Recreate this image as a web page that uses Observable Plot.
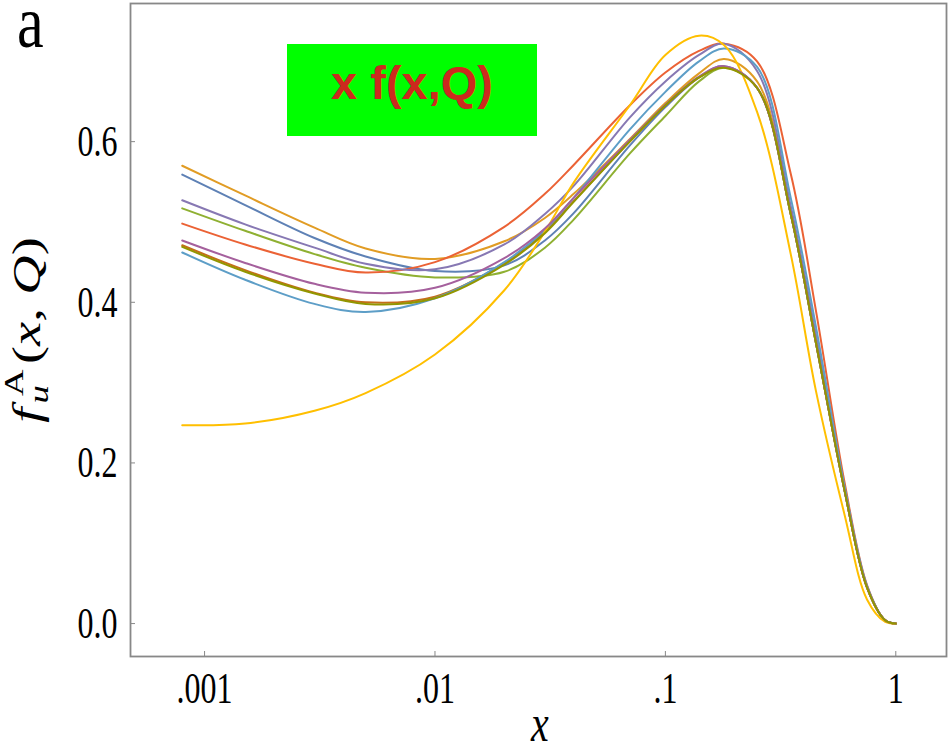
<!DOCTYPE html>
<html>
<head>
<meta charset="utf-8">
<script src="https://cdn.jsdelivr.net/npm/d3@7"></script>
<script src="https://cdn.jsdelivr.net/npm/@observablehq/plot@0.6"></script>
<style>
  body { margin: 0; background: #fff; }
  #chart { width: 949px; height: 753px; }
</style>
</head>
<body>
<div id="chart"></div>
<script>
// Momentum fraction grid shared by every curve
const xs = [0.0008, 0.0015, 0.003, 0.005, 0.01, 0.02, 0.03, 0.04, 0.07, 0.1, 0.14, 0.18, 0.25, 0.35, 0.45, 0.6, 0.75, 0.9, 1];

// x f_u^A(x, Q) for each nuclear PDF set
const setBlue    = [0.559, 0.521, 0.480, 0.457, 0.439, 0.446, 0.477, 0.511, 0.595, 0.643, 0.680, 0.694, 0.667, 0.510, 0.350, 0.165, 0.045, 0.004, 0];
const setOrange  = [0.570, 0.533, 0.493, 0.467, 0.454, 0.476, 0.505, 0.535, 0.603, 0.648, 0.685, 0.703, 0.675, 0.515, 0.352, 0.166, 0.045, 0.004, 0];
const setGreen   = [0.517, 0.489, 0.460, 0.443, 0.431, 0.438, 0.468, 0.503, 0.585, 0.632, 0.675, 0.692, 0.667, 0.510, 0.350, 0.165, 0.045, 0.004, 0];
const setRed     = [0.498, 0.472, 0.448, 0.437, 0.450, 0.494, 0.535, 0.571, 0.645, 0.686, 0.713, 0.722, 0.700, 0.560, 0.390, 0.175, 0.048, 0.004, 0];
const setPurple  = [0.527, 0.497, 0.468, 0.448, 0.441, 0.472, 0.510, 0.545, 0.630, 0.675, 0.708, 0.722, 0.688, 0.520, 0.360, 0.168, 0.046, 0.004, 0];
const setBrown   = [0.471, 0.440, 0.412, 0.400, 0.407, 0.449, 0.488, 0.526, 0.600, 0.645, 0.680, 0.693, 0.667, 0.510, 0.350, 0.165, 0.045, 0.004, 0];
const setSky     = [0.462, 0.428, 0.398, 0.388, 0.405, 0.450, 0.490, 0.530, 0.615, 0.662, 0.700, 0.716, 0.693, 0.530, 0.370, 0.170, 0.047, 0.004, 0];
const setYellow  = [0.247, 0.249, 0.265, 0.287, 0.335, 0.415, 0.488, 0.549, 0.645, 0.708, 0.732, 0.720, 0.637, 0.460, 0.290, 0.135, 0.030, 0.002, 0];
const setMagenta = [0.477, 0.449, 0.423, 0.412, 0.418, 0.455, 0.492, 0.530, 0.602, 0.646, 0.681, 0.694, 0.667, 0.510, 0.350, 0.165, 0.045, 0.004, 0];
const setOlive   = [0.469, 0.438, 0.411, 0.398, 0.405, 0.447, 0.486, 0.525, 0.600, 0.645, 0.680, 0.692, 0.667, 0.510, 0.350, 0.165, 0.045, 0.004, 0];

const seriesNames = ["blue", "orange", "green", "red", "purple", "brown", "sky", "yellow", "magenta", "olive"];
const seriesValues = [setBlue, setOrange, setGreen, setRed, setPurple, setBrown, setSky, setYellow, setMagenta, setOlive];
const seriesColors = ["#5E81B5", "#E19C24", "#8FB032", "#EB6235", "#8778B3", "#C56E1A", "#5D9EC7", "#FFBF00", "#A5609D", "#929600"];

// Axis ticks
const xTicks = [0.001, 0.01, 0.1, 1];
const xTickLabels = [".001", ".01", ".1", "1"];
const yTicks = [0, 0.2, 0.4, 0.6];
const yTickLabels = ["0.0", "0.2", "0.4", "0.6"];

const rows = seriesNames.flatMap((name, k) =>
  xs.map((x, i) => ({series: name, x, y: seriesValues[k][i]}))
);

const serif = "'Liberation Serif', 'DejaVu Serif', serif";
const xLabelOf = new Map(xTicks.map((t, i) => [t, xTickLabels[i]]));
const yLabelOf = new Map(yTicks.map((t, i) => [t, yTickLabels[i]]));

const chart = Plot.plot({
  width: 949,
  height: 753,
  marginLeft: 130,
  marginRight: 3,
  marginTop: 3,
  marginBottom: 97,
  style: {background: "#fff"},
  x: {type: "log", domain: [0.000477, 1.66]},
  y: {domain: [-0.041, 0.772]},
  color: {domain: seriesNames, range: seriesColors},
  marks: [
    Plot.axisX(xTicks, {
      tickSize: -5, stroke: "#888", fill: "#000", tickPadding: 20,
      tickFormat: (d) => xLabelOf.get(d), fontSize: 32, fontFamily: serif, label: null
    }),
    Plot.axisY(yTicks, {
      tickSize: -5, stroke: "#888", fill: "#000", tickPadding: 18,
      tickFormat: (d) => yLabelOf.get(d), fontSize: 32, fontFamily: serif, label: null
    }),
    Plot.line(rows, {x: "x", y: "y", z: "series", stroke: "series", strokeWidth: 2, curve: "catmull-rom"}),
    Plot.frame({stroke: "#888", strokeWidth: 1.8})
  ]
});

// Serif lettering is drawn tall and narrow, as in the LaTeX output
const svg = d3.select(chart);
svg.selectAll("g[aria-label='x-axis tick label'] text, g[aria-label='y-axis tick label'] text")
  .attr("transform", function () { return (this.getAttribute("transform") || "") + " scale(1,1.4)"; });

// Panel letter
svg.append("text")
  .attr("transform", "translate(17,47) scale(1,1.25)")
  .attr("text-anchor", "start")
  .attr("font-family", serif).attr("font-size", 60).text("a");

// x-axis title
svg.append("text")
  .attr("transform", "translate(540,741) scale(1,1.3)")
  .attr("text-anchor", "middle")
  .attr("font-family", serif).attr("font-style", "italic").attr("font-size", 40).text("x");

// y-axis title: f_u^A(x, Q), stretched along its reading direction
const ylab = svg.append("text")
  .attr("transform", "translate(40,330) rotate(-90) scale(1.36,1)")
  .attr("text-anchor", "middle")
  .attr("font-family", serif).attr("font-size", 40);
ylab.append("tspan").attr("font-style", "italic").text("f");
ylab.append("tspan").attr("font-style", "italic").attr("font-size", 27).attr("dx", 3).attr("dy", 8).text("u");
ylab.append("tspan").attr("font-size", 27).attr("dx", -8).attr("dy", -25).text("A");
ylab.append("tspan").attr("dx", 4).attr("dy", 17).text("(");
ylab.append("tspan").attr("font-style", "italic").text("x");
ylab.append("tspan").text(", ");
ylab.append("tspan").attr("font-style", "italic").text("Q");
ylab.append("tspan").text(")");

// Highlighted box with the plotted quantity
svg.append("rect")
  .attr("x", 287).attr("y", 44).attr("width", 250).attr("height", 92)
  .attr("fill", "#00ff00");
svg.append("text")
  .attr("x", 412).attr("y", 99)
  .attr("text-anchor", "middle")
  .attr("font-family", "'Liberation Sans', Arial, sans-serif")
  .attr("font-weight", "bold").attr("font-size", 47)
  .attr("fill", "#cc2a1e")
  .text("x f(x,Q)");

document.getElementById("chart").appendChild(chart);
</script>
</body>
</html>
